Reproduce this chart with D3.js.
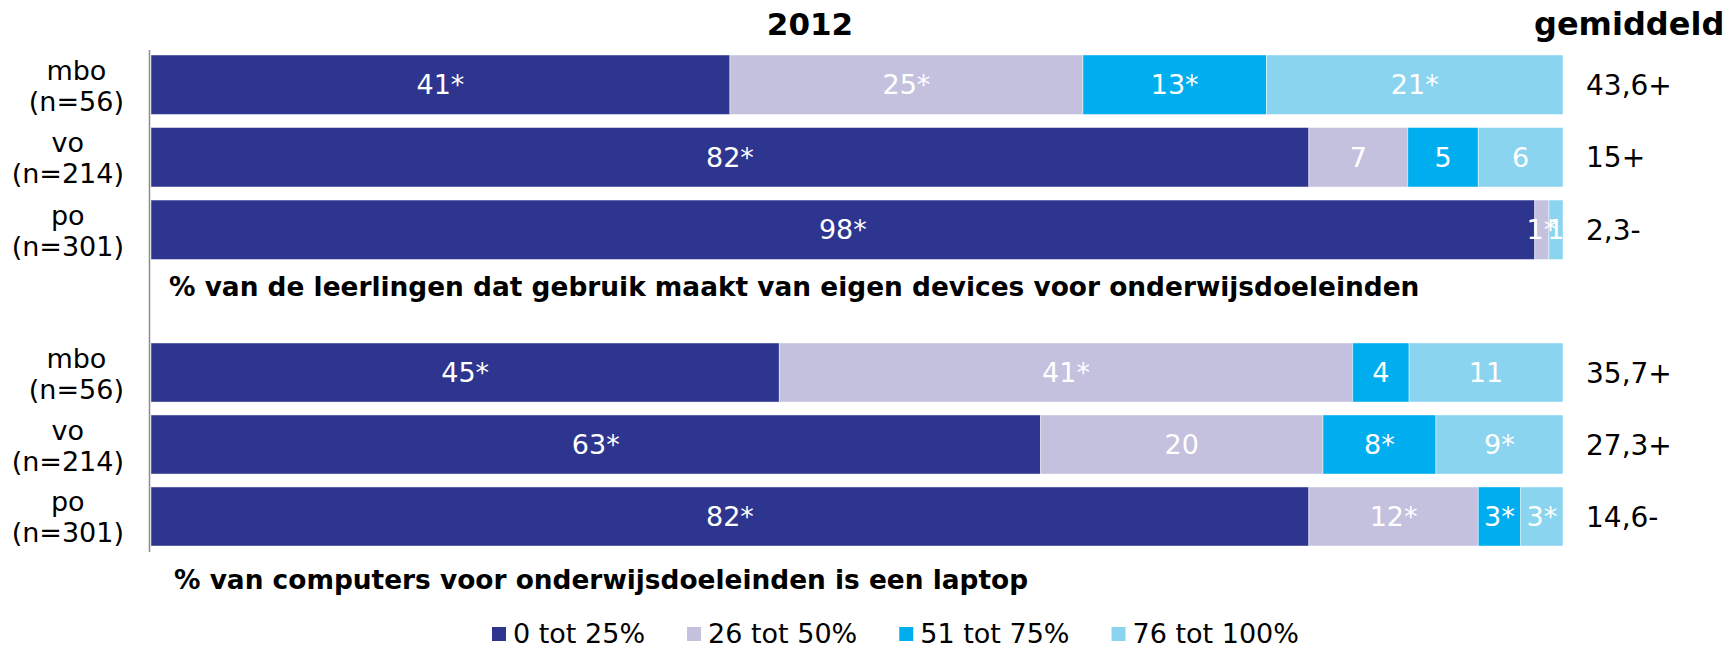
<!DOCTYPE html>
<html>
<head>
<meta charset="utf-8">
<script src="https://cdn.jsdelivr.net/npm/d3@7"></script>
<style>
  body { margin: 0; background: #fff; }
  text { font-family: "DejaVu Sans", Verdana, sans-serif; }
</style>
</head>
<body>
<svg id="chart" width="1733" height="647"></svg>
<script>
const categories = ['mbo', 'vo', 'po'];
const sampleSizes = ['(n=56)', '(n=214)', '(n=301)'];
const seriesNames = ['0 tot 25%', '26 tot 50%', '51 tot 75%', '76 tot 100%'];
const colors = ['#2e358f', '#c4c1df', '#00aeef', '#8ad4f0'];

// % van de leerlingen dat eigen devices gebruikt
const devicesValues = [[41, 25, 13, 21], [82, 7, 5, 6], [98, 1, 0, 1]];
const devicesLabels = [['41*', '25*', '13*', '21*'], ['82*', '7', '5', '6'], ['98*', '1*', '', '1']];
const devicesAvg = ['43,6+', '15+', '2,3-'];

// % van computers dat een laptop is
const laptopValues = [[44.5, 40.6, 4, 10.9], [63, 20, 8, 9], [82, 12, 3, 3]];
const laptopLabels = [['45*', '41*', '4', '11'], ['63*', '20', '8*', '9*'], ['82*', '12*', '3*', '3*']];
const laptopAvg = ['35,7+', '27,3+', '14,6-'];

const title = '2012';
const avgTitle = 'gemiddeld';
const panelTitles = [
  '% van de leerlingen dat gebruik maakt van eigen devices voor onderwijsdoeleinden',
  '% van computers voor onderwijsdoeleinden is een laptop'
];

const svg = d3.select('#chart');
const x = d3.scaleLinear().domain([0, 100]).range([151, 1563]);

const stack = d3.stack().keys([0, 1, 2, 3]).value((d, k) => d[k]);

function drawPanel(values, labels, avgs, top, bottom) {
  const y = d3.scaleBand()
    .domain(categories)
    .range([top, bottom])
    .paddingInner(0.18);

  const layers = stack(values);

  const g = svg.append('g');

  layers.forEach((layer, k) => {
    g.selectAll(null)
      .data(layer)
      .enter().append('rect')
      .attr('x', d => x(d[0]))
      .attr('y', (d, i) => y(categories[i]))
      .attr('width', d => x(d[1]) - x(d[0]))
      .attr('height', y.bandwidth())
      .attr('fill', colors[k])
      .attr('stroke', 'rgba(255,255,255,0.45)')
      .attr('stroke-width', 1);
  });

  layers.forEach((layer, k) => {
    g.selectAll(null)
      .data(layer)
      .enter().append('text')
      .attr('x', d => (x(d[0]) + x(d[1])) / 2)
      .attr('y', (d, i) => y(categories[i]) + y.bandwidth() / 2)
      .attr('dy', '0.36em')
      .attr('text-anchor', 'middle')
      .attr('font-size', 27)
      .attr('fill', '#fff')
      .text((d, i) => labels[i][k]);
  });

  // gemiddelde
  g.selectAll(null)
    .data(avgs)
    .enter().append('text')
    .attr('x', 1586)
    .attr('y', (d, i) => y(categories[i]) + y.bandwidth() / 2)
    .attr('dy', '0.36em')
    .attr('font-size', 28)
    .attr('fill', '#000')
    .text(d => d);

  // rijlabels, twee regels, blok rechts uitgelijnd
  categories.forEach((c, i) => {
    const cy = y(c) + y.bandwidth() / 2;
    const t1 = g.append('text').attr('font-size', 27).attr('text-anchor', 'middle')
      .attr('y', cy - 5).text(c);
    const t2 = g.append('text').attr('font-size', 27).attr('text-anchor', 'middle')
      .attr('y', cy + 26).text(sampleSizes[i]);
    const w = Math.max(t1.node().getComputedTextLength(), t2.node().getComputedTextLength());
    const cx = 124 - w / 2;
    t1.attr('x', cx);
    t2.attr('x', cx);
  });
}

drawPanel(devicesValues, devicesLabels, devicesAvg, 55, 259.5);
drawPanel(laptopValues, laptopLabels, laptopAvg, 343, 546);

// verticale as
svg.append('line')
  .attr('x1', 149.5).attr('x2', 149.5)
  .attr('y1', 50).attr('y2', 552)
  .attr('stroke', '#8c8c8c')
  .attr('stroke-width', 1.5);

svg.append('text')
  .attr('x', 810).attr('y', 35)
  .attr('text-anchor', 'middle')
  .attr('font-size', 31).attr('font-weight', 'bold')
  .text(title);

svg.append('text')
  .attr('x', 1534).attr('y', 35)
  .attr('font-size', 32).attr('font-weight', 'bold')
  .text(avgTitle);

svg.append('text')
  .attr('x', 169).attr('y', 296)
  .attr('font-size', 26.4).attr('font-weight', 'bold')
  .text(panelTitles[0]);

svg.append('text')
  .attr('x', 174).attr('y', 589)
  .attr('font-size', 26.4).attr('font-weight', 'bold')
  .text(panelTitles[1]);

// legenda
const legend = svg.append('g');
let lx = 492;
seriesNames.forEach((name, k) => {
  legend.append('rect')
    .attr('x', lx).attr('y', 627)
    .attr('width', 14).attr('height', 14)
    .attr('fill', colors[k]);
  const t = legend.append('text')
    .attr('x', lx + 21).attr('y', 643)
    .attr('font-size', 27)
    .text(name);
  lx += 21 + t.node().getComputedTextLength() + 42;
});
</script>
</body>
</html>
